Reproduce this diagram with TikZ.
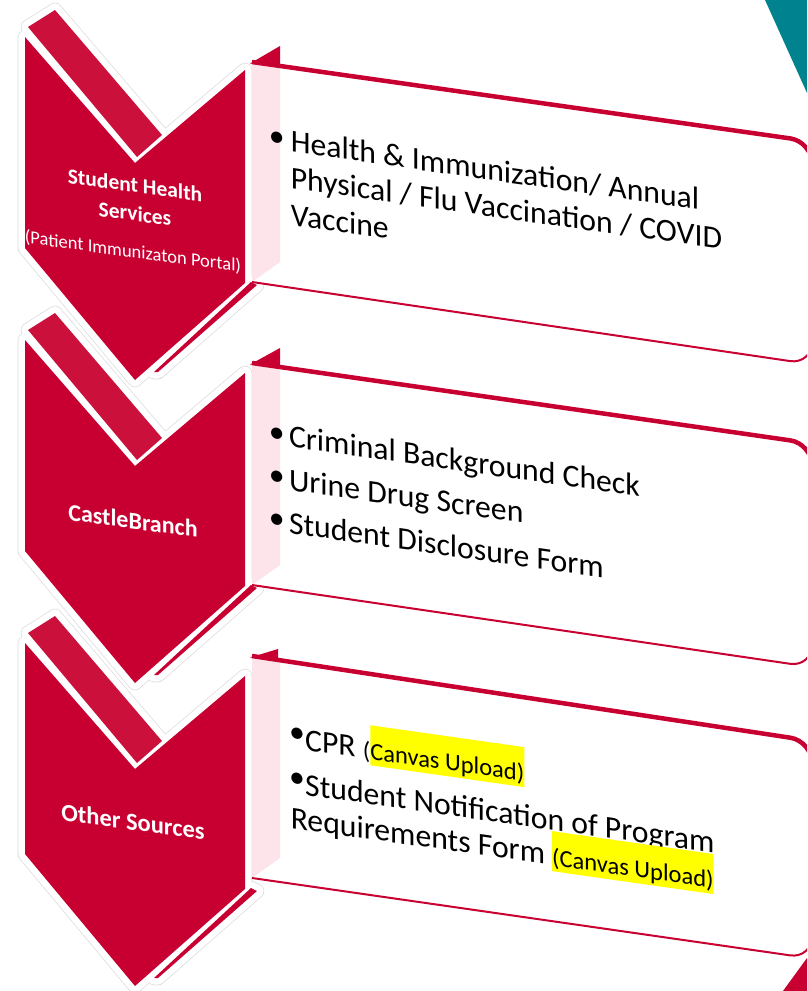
\documentclass[tikz,border=0pt]{standalone}
\usepackage{fontspec}
\setmainfont{Carlito}
\definecolor{crim}{RGB}{200,0,50}
\definecolor{crimlt}{RGB}{203,16,60}
\definecolor{pinkstrip}{RGB}{252,228,234}
\definecolor{tealc}{RGB}{0,131,143}
\definecolor{halo}{RGB}{218,218,218}
\definecolor{hlyellow}{RGB}{255,255,0}
\newcommand\ChevBody{(25,37) -- (135,163) -- (245,70) -- (245,283) -- (135,380) -- (25,248) -- cycle}
\newcommand\ChevBand{(28,27) -- (55,10) -- (162,135) -- (137,157) -- cycle}
\newcommand\ChevSliver{(251,282) -- (257,285) -- (158,372) -- (154,372) -- cycle}
\newcommand\hlcanvas[1]{\raisebox{0pt}[22pt][3pt]{\fontsize{24.5}{29}\selectfont\setlength{\fboxsep}{0pt}\colorbox{hlyellow}{\rule[-6pt]{0pt}{40pt}#1}}}
\newcommand\smallpar[1]{{\fontsize{24.5}{29}\selectfont #1}}
\newcommand\blt[2]{\makebox[#1][l]{\raisebox{#2}{•}}}
\begin{document}
\begin{tikzpicture}[x=1pt,y=-1pt,
  chev/.style={fill=crim},
  band/.style={fill=crimlt},
  haloout/.style={draw=halo,line width=14.6pt,line join=round},
  haloin/.style={draw=white,line width=13.2pt,line join=round},
  chevlbl/.style={text=white,inner sep=0pt,anchor=base,yslant=-0.135},
  boxtxt/.style={text=black,inner sep=0pt,anchor=base west,yslant=-0.142,font=\fontsize{31.7}{37}\selectfont},
  topedge/.style={draw=crim,line width=4.5pt,rounded corners=22pt},
  botedge/.style={draw=crim,line width=2pt,rounded corners=22pt},
  sidestrip/.style={fill=pinkstrip},
]
\useasboundingbox (0,0) rectangle (807,991);
\clip (0,0) rectangle (807,991);
% halos
\foreach \dy in {0,303,606}{
  \begin{scope}[shift={(0,\dy)}]
    \path[haloout] \ChevBody; \path[haloout] \ChevBand; \path[haloout] \ChevSliver;
  \end{scope}}
\foreach \dy in {0,303,606}{
  \begin{scope}[shift={(0,\dy)}]
    \path[haloin] \ChevBody; \path[haloin] \ChevBand; \path[haloin] \ChevSliver;
  \end{scope}}
% chevrons
\foreach \dy in {0,303,606}{
  \begin{scope}[shift={(0,\dy)}]
    \path[chev] \ChevBody; \path[band] \ChevBand; \path[chev] \ChevSliver;
  \end{scope}}
% corner decorations
\fill[tealc] (765,0) -- (807,0) -- (807,93) -- cycle;
\fill[crim] (783,991) -- (807,958) -- (807,991) -- cycle;
% box 1
\fill[white] (252,62) -- (812,141.5) -- (812,364.3) -- (252,282) -- cycle;
\fill[sidestrip] (252,62) -- (280,66) -- (280,262) -- (252,282) -- cycle;
\draw[topedge] (252,62) -- (812,141.5) -- (812,250);
\draw[botedge] (252,282) -- (812,364.3) -- (812,250);
\fill[crim] (250,63.5) -- (280,46) -- (280,66) -- cycle;
% box 2
\fill[white] (252,363) -- (812,443.5) -- (812,667) -- (252,585) -- cycle;
\fill[sidestrip] (252,363) -- (280,367) -- (280,565) -- (252,585) -- cycle;
\draw[topedge] (252,363) -- (812,443.5) -- (812,550);
\draw[botedge] (252,585) -- (812,667) -- (812,550);
\fill[crim] (250,364.5) -- (280,348) -- (280,367) -- cycle;
% box 3
\fill[white] (252,656) -- (812,741) -- (812,958.5) -- (252,878) -- cycle;
\fill[sidestrip] (252,656) -- (280,660) -- (280,858) -- (252,878) -- cycle;
\draw[topedge] (252,656) -- (812,741) -- (812,850);
\draw[botedge] (252,878) -- (812,958.5) -- (812,850);
\fill[crim] (250,657.5) -- (278,649) -- (278,660) -- cycle;
% chevron labels
\node[chevlbl,align=center,font=\bfseries\fontsize{21.5}{28.5}\selectfont] (c1a) at (135,221) {Student Health\\Services};
\node[chevlbl,font=\fontsize{18.5}{22}\selectfont] (c1c) at (133,257.5) {(Patient Immunizaton Portal)};
\node[chevlbl,font=\bfseries\fontsize{24}{28}\selectfont] (c2) at (133,529) {CastleBranch};
\node[chevlbl,font=\bfseries\fontsize{24.5}{28}\selectfont] (c3) at (133,830) {Other Sources};
% box texts
\node[boxtxt] (b1a) at (268.6,148.6) {\blt{22pt}{3.5pt}Health \& Immunization/ Annual};
\node[boxtxt] (b1b) at (290.6,188) {Physical / Flu Vaccination / COVID};
\node[boxtxt] (b1c) at (290.6,225) {Vaccine};
\node[boxtxt] (b2a) at (268.6,443.8) {\blt{20.2pt}{2.5pt}Criminal Background Check};
\node[boxtxt] (b2b) at (268.6,487.1) {\blt{20.2pt}{2.5pt}Urine Drug Screen};
\node[boxtxt] (b2c) at (268.6,530.4) {\blt{20.2pt}{2.5pt}Student Disclosure Form};
\node[boxtxt] (b3a) at (289,747.7) {\blt{16pt}{6pt}CPR \smallpar{(}\hlcanvas{Canvas Upload)}};
\node[boxtxt] (b3b) at (289,792.7) {\blt{16pt}{6.5pt}Student Notification of Program};
\node[boxtxt] (b3c) at (290.6,828) {Requirements Form \hlcanvas{(Canvas Upload)}};
\end{tikzpicture}
\end{document}
